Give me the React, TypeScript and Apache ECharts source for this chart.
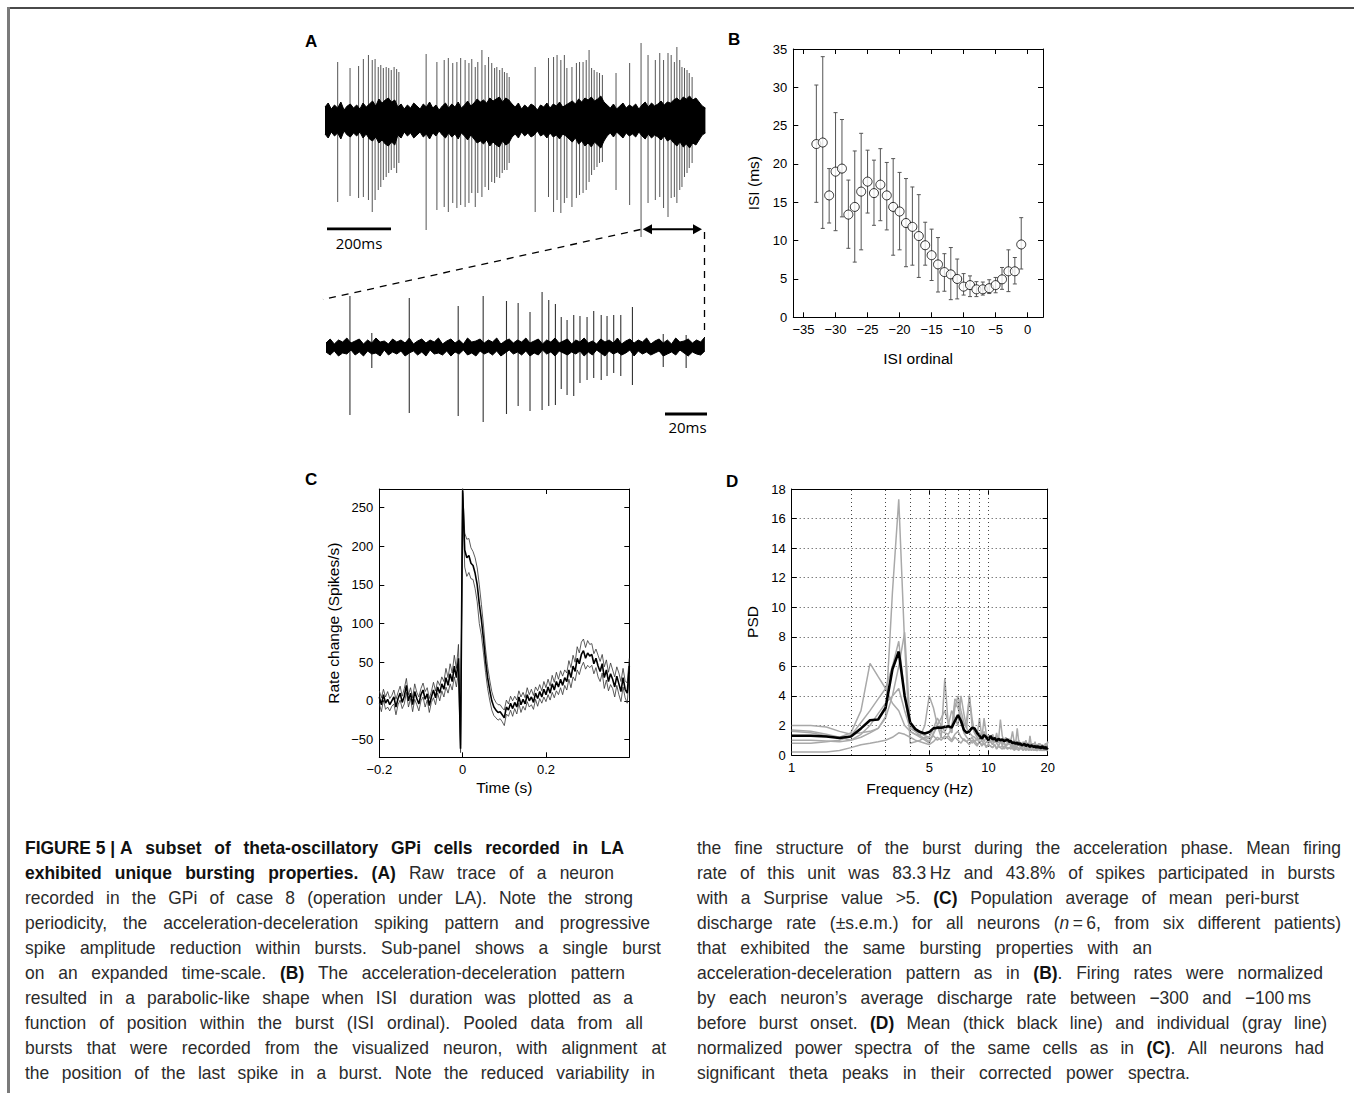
import React, { useEffect, useRef } from "react";
import * as echarts from "echarts";

const FONT = '"Liberation Sans", Arial, Helvetica, sans-serif';

// ===== Panel A (top): raw trace — spike times (ms) and peak/trough amplitudes =====
const rawSpikeTimes = [40,79,106,121,137,149,158,168,176,184,193,201,209,218,226,233, 319,
  353,376,389,403,416,428,442,454,463,474,482,495,505,516,526,535,542,551,559,566,574,581,
  663,705,721,732,744,755,763,779,793,803,814,824,833,841,849,858,866,875, 918,961,
  997,1019,1042,1056,1068,1082,1092,1102,1110,1119,1126,1134,1142,1149,1158];
const rawSpikeUp = [58,52,54,61,65,60,61,53,55,52,53,52,50,53,51,48, 66,
  58,60,62,57,58,62,60,57,61,53,58,70,55,63,57,52,53,50,52,48,47,43,
  53,62,63,65,60,65,52,53,57,58,58,60,70,52,50,48,47,45, 47,57,
  77,65,60,67,60,67,65,58,73,60,53,52,50,47,43];
const rawSpikeDown = [-82,-76,-78,-77,-80,-92,-80,-70,-67,-60,-57,-53,-50,-48,-53,-43, -110,
  -90,-87,-92,-83,-88,-85,-87,-83,-73,-87,-73,-77,-67,-70,-62,-63,-57,-58,-53,-50,-50,-43,
  -92,-77,-92,-80,-93,-83,-78,-87,-78,-75,-73,-70,-62,-55,-50,-47,-43,-42, -70,-85,
  -117,-83,-80,-77,-88,-97,-78,-77,-83,-70,-67,-57,-53,-48,-43];
// background noise envelope, sampled every 10 ms from 0 to 1200 ms
const rawEnvStepMs = 10;
const rawEnvUpper = [13,17,11,15,12,18,10,14,16,12, 15,11,17,13,16,19,14,21,17,20,
  22,18,20,13,16,11,15,12,17,14, 11,16,13,18,12,15,10,14,17,12,
  16,13,18,12,15,19,14,17,21,18, 20,17,22,19,21,23,18,22,20,16,
  13,17,11,15,12,16,14,10,15,13, 17,12,16,14,18,13,15,17,19,16,
  21,18,22,20,23,19,21,24,18,15, 12,16,11,14,17,12,15,13,16,11,
  15,18,13,17,14,16,19,15,18,17, 20,22,19,23,21,24,20,22,18,14, 12];
const rawEnvLower = [-14,-18,-12,-16,-13,-19,-11,-15,-17,-13, -16,-12,-18,-14,-19,-21,-17,-23,-20,-24,
  -26,-22,-25,-15,-18,-12,-16,-13,-18,-15, -12,-17,-14,-19,-13,-16,-11,-15,-18,-13,
  -17,-14,-19,-13,-16,-20,-15,-19,-23,-21, -24,-20,-26,-22,-25,-27,-21,-25,-23,-17,
  -14,-18,-12,-16,-13,-17,-15,-11,-16,-14, -18,-13,-17,-15,-19,-14,-16,-19,-22,-18,
  -24,-21,-26,-23,-27,-22,-25,-28,-21,-16, -13,-17,-12,-15,-18,-13,-16,-14,-17,-12,
  -16,-19,-14,-18,-15,-17,-20,-16,-21,-19, -23,-26,-22,-27,-24,-28,-23,-25,-20,-15, -13];

// ===== Panel A (bottom): single burst on expanded time-scale =====
const burstSpikeTimes = [11.5,22,40,63.5,75.5,86.7,92.3,98,103.8,107,110.2,113,115.8,119,122,125.4,128.6,132.2,135,138.2,141.6,147.2,162,173];
const burstSpikeUp = [51,14,49,41,51,46,44,35,55,47,43,30,27,32,31,30,36,32,31,32,32,40,13,12];
const burstSpikeDown = [-68,-21,-66,-69,-75,-67,-59,-64,-63,-59,-58,-42,-48,-49,-36,-33,-31,-33,-29,-26,-29,-38,-20,-21];
const burstEnvStepMs = 2;
const burstEnvUpper = [4,8,3,7,5,9,4,6,8,3, 7,4,9,5,6,3,8,5,7,4, 9,3,6,8,4,7,5,9,3,6,
  8,4,7,3,9,5,6,8,4,7, 5,9,3,6,8,4,7,5,9,4, 6,8,3,7,5,9,4,6,8,3,
  7,5,9,4,6,3,8,5,7,4, 9,3,6,8,4,7,5,9,3,6, 8,4,7,3,9,5,6,8,4,7, 5,10];
const burstEnvLower = [-5,-8,-4,-9,-6,-7,-3,-8,-5,-9, -4,-7,-6,-9,-3,-8,-5,-7,-4,-9,
  -6,-4,-8,-5,-9,-3,-7,-6,-8,-4, -9,-5,-7,-3,-8,-6,-9,-4,-7,-5,
  -8,-4,-9,-6,-3,-7,-5,-8,-4,-9, -6,-8,-3,-7,-5,-9,-4,-6,-8,-5,
  -7,-4,-9,-5,-8,-3,-6,-9,-4,-7, -5,-8,-6,-3,-9,-4,-7,-5,-8,-6,
  -4,-9,-7,-5,-8,-3,-6,-9,-5,-7, -8,-4];

// ===== Panel B: ISI vs ISI ordinal =====
const isiOrdinal = [-33,-32,-31,-30,-29,-28,-27,-26,-25,-24,-23,-22,-21,-20,-19,-18,-17,-16,-15,-14,-13,-12,-11,-10,-9,-8,-7,-6,-5,-4,-3,-2,-1];
const isiMean = [22.6,22.8,15.9,19.0,19.4,13.4,14.4,16.4,17.7,16.2,17.3,15.9,14.4,13.8,12.3,11.8,10.6,9.4,8.1,6.9,5.9,5.6,5.0,4.0,4.2,3.65,3.65,3.8,4.2,4.95,6.0,6.0,9.5];
const isiLow = [15.0,11.6,12.3,11.3,13.1,9.0,7.2,8.8,13.6,12.0,12.6,11.4,8.1,8.8,6.6,6.8,5.2,6.8,4.8,3.3,3.4,2.3,2.4,2.9,2.7,2.7,2.9,3.1,3.2,3.65,3.35,4.35,6.3];
const isiHigh = [30.3,34.0,19.4,26.7,25.8,17.9,21.7,24.0,21.8,20.5,22.0,20.2,20.7,18.9,18.1,17.0,16.0,12.4,11.5,10.4,8.3,9.1,7.6,5.7,5.4,4.65,4.6,4.9,5.2,6.5,8.8,7.8,13.0];
const isiXTicks = [-35,-30,-25,-20,-15,-10,-5,0];

// ===== Panel C: peri-burst rate, 5 ms bins from -0.2 s to 0.4 s =====
const rateBinStartS = -0.2;
const rateBinMs = 5;
const rateMean = [5,-5,8,-3,2,-5,0,5,-8,3, 10,-2,6,20,0,10,-5,12,3,-4, 8,14,2,9,-6,5,14,4,18,10,
  22,15,30,20,35,25,45,30,55,-62, 272,
  195,185,188,178,175,165,150,125,105,80, 52,30,14,0,-8,-12,-15,-14,-18,-22,
  -8,-12,-3,-10,-2,-8,5,-5,2,-4, 8,0,5,-2,10,3,12,5,15,8,
  18,10,22,14,25,18,28,20,30,25, 40,30,45,38,55,48,60,65,55,62,
  58,60,48,55,45,38,48,30,40,25, 35,28,18,32,22,12,30,15,10,45];
const rateSem = [8,9,7,8,10,8,7,9,10,8, 9,8,10,9,8,7,9,10,8,9, 8,9,10,8,9,7,10,9,8,10,
  9,10,12,10,13,11,14,12,18,5, 3,
  22,24,22,20,18,20,22,25,20,18, 15,14,13,12,11,10,10,9,9,10,
  9,8,9,10,8,9,8,10,9,8, 9,8,10,9,8,10,9,8,10,9,
  10,9,11,10,12,10,11,12,10,11, 12,13,14,12,15,14,16,15,14,16,
  15,14,13,12,14,13,12,14,13,12, 14,12,13,12,14,13,12,11,13,10];
const rateXTicks = [-0.2, 0, 0.2];
const rateYTicks = [-50, 0, 50, 100, 150, 200, 250];

// ===== Panel D: power spectra, 0.25 Hz resolution from 1 to 20 Hz =====
const psdStartHz = 1;
const psdStepHz = 0.25;
const psdMean = [1.3,1.3,1.25,1.15,1.25,1.8,2.35,2.4,3.2, 5.8,7.0,4.0,2.2,1.75,1.55,1.45,1.55,
  1.8,1.85,1.85,1.9,1.95,1.85,2.3,2.7,2.3,1.7,1.5,1.6,1.85,1.8,1.5,1.3,1.1,1.35,1.2,1.0,
  1.3,1.05,1.15,0.95,1.1,1.0,1.05,0.95,1.0,1.05, 0.9,0.95,0.8,0.85,0.75,0.85,0.7,0.8,0.65,0.7,
  0.75,0.6,0.7,0.65,0.55,0.65,0.6,0.55,0.6,0.5, 0.6,0.5,0.55,0.45,0.6,0.5,0.45,0.55,0.4,0.5];
const psdCell1 = [1.0,1.0,0.95,0.9,1.0,1.2,1.5,1.8,2.6, 11,17.3,7.5,0.8,0.9,1.0,1.2,1.1,
  1.3,1.0,1.2,1.1,1.3,1.0,1.4,1.6,1.2,1.0,0.9,1.1,0.8,1.0,0.7,0.9,0.6,0.8,0.5,0.7,
  0.6,0.5,0.7,0.45,0.6,0.5,0.65,0.4,0.55,0.5, 0.45,0.6,0.4,0.5,0.35,0.55,0.45,0.4,0.5,0.35,
  0.45,0.4,0.5,0.3,0.45,0.4,0.35,0.5,0.3,0.4, 0.35,0.45,0.3,0.4,0.35,0.3,0.45,0.35,0.3,0.4];
const psdCell2 = [2.0,2.0,1.9,1.6,1.4,1.5,1.6,1.8,2.5, 4.0,6.0,8.3,2.0,1.6,1.3,1.1,0.9,
  1.4,2.0,2.5,3.0,2.2,1.5,3.2,4.0,3.0,2.2,1.8,1.5,1.3,1.2,1.0,1.5,1.1,2.5,1.4,1.0,
  1.2,0.9,1.1,0.8,1.0,2.4,1.3,0.9,1.0,0.8, 1.1,0.9,0.7,1.0,0.8,1.8,0.9,0.7,0.8,0.6,
  0.9,0.7,0.8,0.6,1.3,0.7,0.6,0.8,0.5,0.7, 0.6,0.8,0.5,0.7,0.6,0.5,0.7,0.6,0.5,0.9];
const psdCell3 = [0.8,0.8,0.9,1.0,1.3,2.2,3.0,3.8,4.5, 6.0,7.7,4.0,1.6,1.4,1.3,2.0,4.0,
  3.2,2.0,1.6,1.5,1.4,1.8,3.5,3.2,2.5,2.0,2.4,4.0,2.5,1.5,1.2,1.0,1.4,0.9,1.2,0.8,
  1.0,0.7,0.9,1.5,0.8,1.0,0.7,0.9,0.6,0.8, 0.7,0.9,0.6,0.8,0.5,0.7,0.9,0.6,0.7,0.5,
  0.8,0.6,0.7,0.5,0.6,0.8,0.5,0.6,0.4,0.7, 0.5,0.6,0.4,0.5,0.7,0.4,0.5,0.6,0.4,0.5];
const psdCell4 = [1.6,1.5,1.3,1.2,1.5,3.0,6.2,5.3,4.5, 3.5,3.0,2.0,1.6,1.4,1.2,1.0,0.8,
  1.5,2.0,1.2,5.2,2.0,1.5,3.8,3.5,2.5,1.5,1.2,1.0,1.2,0.9,1.1,0.8,1.0,0.7,0.9,0.8,
  0.9,0.7,1.1,0.8,0.6,0.9,0.7,0.8,0.6,0.7, 0.9,0.6,0.8,0.5,0.7,0.6,0.8,0.5,0.6,0.7,
  0.5,0.6,0.4,0.7,0.5,0.6,0.4,0.5,0.6,0.4, 0.5,0.4,0.6,0.3,0.5,0.4,0.3,0.5,0.4,0.3];
const psdCell5 = [0.2,0.2,0.2,0.3,0.5,0.7,0.8,0.9,1.0, 1.2,1.5,1.4,1.2,1.0,0.9,0.8,0.7,
  0.9,1.2,1.0,1.3,1.1,0.9,1.2,1.0,0.8,1.1,0.9,0.7,1.0,0.8,0.6,0.9,0.7,0.8,0.6,0.7,
  0.6,0.5,0.7,0.4,0.6,0.5,0.4,0.6,0.5,0.4, 0.5,0.4,0.6,0.3,0.5,0.4,0.3,0.5,0.4,0.3,
  0.4,0.3,0.5,0.3,0.4,0.3,0.4,0.3,0.4,0.3, 0.3,0.4,0.3,0.35,0.3,0.4,0.3,0.35,0.3,0.3];
const psdCell6 = [1.7,1.6,1.4,1.2,1.0,1.4,2.0,2.8,3.5, 4.0,4.5,3.0,1.8,1.6,1.5,1.3,1.2,
  1.8,2.5,2.0,1.6,2.0,3.0,2.5,2.0,4.0,2.8,1.8,4.0,2.0,1.5,1.3,2.5,1.2,1.6,1.1,1.3,
  1.1,1.4,1.0,1.2,0.9,1.1,0.8,1.0,1.2,0.9, 0.8,1.0,1.6,0.9,0.8,0.7,1.0,0.8,0.6,0.9,
  0.7,1.0,0.6,0.8,0.7,0.5,0.8,0.6,0.9,0.5, 0.7,0.6,0.8,0.5,0.7,0.6,0.5,0.8,0.6,0.9];
const psdCells = [psdCell1, psdCell2, psdCell3, psdCell4, psdCell5, psdCell6];
const psdXTicks = [1, 5, 10, 20];
const psdGridFreqs = [2, 3, 4, 5, 6, 7, 8, 9, 10];

// ===== Caption =====
const captionLeft = [
  "**FIGURE\u00a05\u00a0|\u00a0A subset of theta-oscillatory GPi cells recorded in LA**",
  "**exhibited unique bursting properties. (A)** Raw trace of a neuron",
  "recorded in the GPi of case 8 (operation under LA). Note the strong",
  "periodicity, the acceleration-deceleration spiking pattern and progressive",
  "spike amplitude reduction within bursts. Sub-panel shows a single burst",
  "on an expanded time-scale. **(B)** The acceleration-deceleration pattern",
  "resulted in a parabolic-like shape when ISI duration was plotted as a",
  "function of position within the burst (ISI ordinal). Pooled data from all",
  "bursts that were recorded from the visualized neuron, with alignment at",
  "the position of the last spike in a burst. Note the reduced variability in",
];
const captionLeftEnds = [624, 614, 633, 650, 661, 625, 633, 643, 666, 655];
const captionRight = [
  "the fine structure of the burst during the acceleration phase. Mean firing",
  "rate of this unit was 83.3\u2009Hz and 43.8% of spikes participated in bursts",
  "with a Surprise value >5. **(C)** Population average of mean peri-burst",
  "discharge rate (\u00b1s.e.m.) for all neurons (__n__\u2009=\u20096, from six different patients)",
  "that exhibited the same bursting properties with an",
  "acceleration-deceleration pattern as in **(B)**. Firing rates were normalized",
  "by each neuron\u2019s average discharge rate between \u2212300 and \u2212100\u2009ms",
  "before burst onset. **(D)** Mean (thick black line) and individual (gray line)",
  "normalized power spectra of the same cells as in **(C)**. All neurons had",
  "significant theta peaks in their corrected power spectra.",
];
const captionRightEnds = [1341, 1335, 1299, 1341, 1152, 1323, 1311, 1327, 1324, 1190];

const CAP_SIZE = 18;
const CAP_SCALE = 0.97;

type Run = { t: string; b: boolean; i: boolean };

function parseLine(s: string): Run[][] {
  const runs: Run[] = [];
  let b = false, it = false, buf = "";
  for (let k = 0; k < s.length; k++) {
    if (s.startsWith("**", k)) {
      if (buf) runs.push({ t: buf, b, i: it });
      buf = ""; b = !b; k++; continue;
    }
    if (s.startsWith("__", k)) {
      if (buf) runs.push({ t: buf, b, i: it });
      buf = ""; it = !it; k++; continue;
    }
    buf += s[k];
  }
  if (buf) runs.push({ t: buf, b, i: it });
  const words: Run[][] = [[]];
  for (const r of runs) {
    const parts = r.t.split(" ");
    parts.forEach((p, idx) => {
      if (idx > 0) words.push([]);
      if (p) words[words.length - 1].push({ ...r, t: p });
    });
  }
  return words.filter((w) => w.length > 0);
}

function captionElements(lines: string[], ends: number[], x0: number, y0: number) {
  const canvas = document.createElement("canvas");
  const ctx = canvas.getContext("2d")!;
  const measure = (r: Run) => {
    ctx.font = `${r.i ? "italic " : ""}${r.b ? "bold " : ""}${CAP_SIZE}px ${FONT}`;
    return ctx.measureText(r.t).width * CAP_SCALE;
  };
  const els: any[] = [];
  lines.forEach((line, li) => {
    const words = parseLine(line);
    const widths = words.map((w) => w.reduce((s, r) => s + measure(r), 0));
    const total = widths.reduce((a, c) => a + c, 0);
    const gap = words.length > 1 ? Math.max(4, (ends[li] - x0 - total) / (words.length - 1)) : 0;
    let x = x0;
    const y = y0 + li * 25;
    words.forEach((w, wi) => {
      let rx = x;
      w.forEach((r) => {
        els.push({
          type: "text",
          x: rx,
          y,
          scaleX: CAP_SCALE,
          silent: true,
          style: {
            text: r.t,
            x: 0,
            y: 0,
            fontSize: CAP_SIZE,
            fontFamily: FONT,
            fontWeight: r.b ? "bold" : "normal",
            fontStyle: r.i ? "italic" : "normal",
            fill: r.b ? "#111" : "#2b2b2b",
            align: "left",
            verticalAlign: "middle",
          },
        });
        rx += measure(r);
      });
      x += widths[wi] + gap;
    });
  });
  return els;
}

const fmtMinus = (v: number) => (v < 0 ? "\u2212" + String(Math.abs(v)) : String(v));
const tick = { inside: true, length: 5, lineStyle: { color: "#000", width: 1 } };
const axLine = { show: true, onZero: false, lineStyle: { color: "#000", width: 1 } };
const lab = { color: "#000", fontSize: 13, fontFamily: FONT, margin: 6 };
const nameStyle = { color: "#000", fontSize: 15.5, fontFamily: FONT };
const noSplit = { show: false };

function vbar(color: string, width: number) {
  return (params: any, api: any) => {
    const t = api.value(0);
    const a = api.coord([t, api.value(1)]);
    const b = api.coord([t, api.value(2)]);
    return {
      type: "line",
      shape: { x1: a[0], y1: a[1], x2: b[0], y2: b[1] },
      style: { stroke: color, lineWidth: width },
    };
  };
}

function errRender(params: any, api: any) {
  const x = api.value(0);
  const lo = api.coord([x, api.value(1)]);
  const hi = api.coord([x, api.value(2)]);
  const c = 2;
  const st = { stroke: "#555", lineWidth: 1 };
  return {
    type: "group",
    children: [
      { type: "line", shape: { x1: lo[0], y1: lo[1], x2: hi[0], y2: hi[1] }, style: st },
      { type: "line", shape: { x1: lo[0] - c, y1: lo[1], x2: lo[0] + c, y2: lo[1] }, style: st },
      { type: "line", shape: { x1: hi[0] - c, y1: hi[1], x2: hi[0] + c, y2: hi[1] }, style: st },
    ],
  };
}

function buildOption() {
  const rawSpikes = rawSpikeTimes.map((t, i) => [t, rawSpikeDown[i], rawSpikeUp[i]]);
  const rawUp = rawEnvUpper.map((v, i) => [i * rawEnvStepMs, v]);
  const rawLo = rawEnvLower.map((v, i) => [i * rawEnvStepMs, v]);
  const burstSpikes = burstSpikeTimes.map((t, i) => [t, burstSpikeDown[i], burstSpikeUp[i]]);
  const burstUp = burstEnvUpper.map((v, i) => [i * burstEnvStepMs, v]);
  const burstLo = burstEnvLower.map((v, i) => [i * burstEnvStepMs, v]);

  const rateT = rateMean.map((_, i) => Math.round(rateBinStartS * 1000 + i * rateBinMs) / 1000);
  const psdF = psdMean.map((_, i) => psdStartHz + i * psdStepHz);

  const graphic: any[] = [
    { type: "rect", silent: true, shape: { x: 8, y: 7, width: 1346, height: 2 }, style: { fill: "#4a4a4a" } },
    { type: "rect", silent: true, shape: { x: 7, y: 7, width: 3, height: 1086 }, style: { fill: "#7a7a7a" } },
    ...[["A", 305, 41], ["B", 728, 39], ["C", 305, 479], ["D", 726, 481]].map(([t, x, y]) => ({
      type: "text", silent: true, x, y,
      style: { text: t, fontSize: 17, fontWeight: "bold", fontFamily: FONT, fill: "#000", align: "left", verticalAlign: "middle" },
    })),
    // scale bars
    { type: "line", silent: true, shape: { x1: 327, y1: 228.8, x2: 391, y2: 228.8 }, style: { stroke: "#000", lineWidth: 2.8 } },
    { type: "text", silent: true, x: 359, y: 243, style: { text: "200ms", fontSize: 15, fontFamily: '"Open Sans", sans-serif', fill: "#000", align: "center", verticalAlign: "middle" } },
    { type: "line", silent: true, shape: { x1: 665, y1: 414, x2: 707, y2: 414 }, style: { stroke: "#000", lineWidth: 2.8 } },
    { type: "text", silent: true, x: 687.5, y: 427, style: { text: "20ms", fontSize: 15, fontFamily: '"Open Sans", sans-serif', fill: "#000", align: "center", verticalAlign: "middle" } },
    // zoom connectors
    { type: "line", silent: true, shape: { x1: 640.5, y1: 229.5, x2: 323, y2: 299.5 }, style: { stroke: "#000", lineWidth: 1.3, lineDash: [7, 6] } },
    { type: "line", silent: true, shape: { x1: 704.5, y1: 232, x2: 704.5, y2: 332 }, style: { stroke: "#000", lineWidth: 1.3, lineDash: [7, 6] } },
    // double arrow
    { type: "line", silent: true, shape: { x1: 650, y1: 229.3, x2: 695, y2: 229.3 }, style: { stroke: "#000", lineWidth: 2 } },
    { type: "polygon", silent: true, shape: { points: [[642.7, 229.3], [652, 224.3], [652, 234.3]] }, style: { fill: "#000" } },
    { type: "polygon", silent: true, shape: { points: [[702, 229.3], [693, 224.3], [693, 234.3]] }, style: { fill: "#000" } },
    ...captionElements(captionLeft, captionLeftEnds, 25, 848),
    ...captionElements(captionRight, captionRightEnds, 697, 848),
  ];

  const hidden = { show: false };

  return {
    animation: false,
    backgroundColor: "#fff",
    grid: [
      { left: 325, top: 35, width: 382, height: 200, outerBoundsMode: "none" },
      { left: 326, top: 277, width: 382, height: 150, outerBoundsMode: "none" },
      { left: 793.3, top: 49, width: 249.7, height: 268.3, outerBoundsMode: "none" },
      { left: 379.3, top: 489, width: 250, height: 268.3, outerBoundsMode: "none" },
      { left: 791.7, top: 489, width: 256, height: 266, outerBoundsMode: "none" },
    ],
    xAxis: [
      { type: "value", gridIndex: 0, min: 0, max: 1205, ...hidden },
      { type: "value", gridIndex: 1, min: 0, max: 183.5, ...hidden },
      {
        type: "value", gridIndex: 2, min: -36.6, max: 2.4, axisLine: axLine,
        axisTick: { ...tick, customValues: isiXTicks },
        axisLabel: { ...lab, customValues: isiXTicks, formatter: fmtMinus },
        splitLine: noSplit, name: "ISI ordinal", nameLocation: "middle", nameGap: 33, nameTextStyle: nameStyle,
      },
      {
        type: "value", gridIndex: 2, position: "top", min: -36.6, max: 2.4, axisLine: axLine,
        axisTick: { ...tick, customValues: isiXTicks }, axisLabel: { show: false }, splitLine: noSplit,
      },
      {
        type: "value", gridIndex: 3, min: -0.2, max: 0.4, axisLine: axLine,
        axisTick: { ...tick, customValues: rateXTicks },
        axisLabel: { ...lab, customValues: rateXTicks, formatter: fmtMinus },
        splitLine: noSplit, name: "Time (s)", nameLocation: "middle", nameGap: 22, nameTextStyle: nameStyle,
      },
      {
        type: "value", gridIndex: 3, position: "top", min: -0.2, max: 0.4, axisLine: axLine,
        axisTick: { ...tick, customValues: rateXTicks }, axisLabel: { show: false }, splitLine: noSplit,
      },
      {
        type: "log", logBase: 10, gridIndex: 4, min: 1, max: 20, axisLine: axLine,
        axisTick: { ...tick, customValues: psdXTicks },
        axisLabel: { ...lab, customValues: psdXTicks },
        splitLine: noSplit, name: "Frequency (Hz)", nameLocation: "middle", nameGap: 25, nameTextStyle: nameStyle,
      },
      {
        type: "log", logBase: 10, gridIndex: 4, position: "top", min: 1, max: 20, axisLine: axLine,
        axisTick: { ...tick, customValues: psdXTicks }, axisLabel: { show: false }, splitLine: noSplit,
      },
    ],
    yAxis: [
      { type: "value", gridIndex: 0, min: -115, max: 85, ...hidden },
      { type: "value", gridIndex: 1, min: -80, max: 70, ...hidden },
      {
        type: "value", gridIndex: 2, min: 0, max: 35, interval: 5, axisLine: axLine, axisTick: tick,
        axisLabel: lab, splitLine: noSplit, name: "ISI (ms)", nameLocation: "middle", nameGap: 32, nameTextStyle: nameStyle,
      },
      { type: "value", gridIndex: 2, position: "right", min: 0, max: 35, interval: 5, axisLine: axLine, axisTick: tick, axisLabel: { show: false }, splitLine: noSplit },
      {
        type: "value", gridIndex: 3, min: -73, max: 274, axisLine: axLine,
        axisTick: { ...tick, customValues: rateYTicks },
        axisLabel: { ...lab, customValues: rateYTicks, formatter: fmtMinus },
        splitLine: noSplit, name: "Rate change (Spikes/s)", nameLocation: "middle", nameGap: 38, nameTextStyle: nameStyle,
      },
      {
        type: "value", gridIndex: 3, position: "right", min: -73, max: 274, axisLine: axLine,
        axisTick: { ...tick, customValues: rateYTicks }, axisLabel: { show: false }, splitLine: noSplit,
      },
      {
        type: "value", gridIndex: 4, min: 0, max: 18, interval: 2, axisLine: axLine, axisTick: tick,
        axisLabel: lab, splitLine: { show: true, lineStyle: { color: "#444", type: [1, 3], width: 1 } },
        name: "PSD", nameLocation: "middle", nameGap: 31, nameTextStyle: nameStyle,
      },
      { type: "value", gridIndex: 4, position: "right", min: 0, max: 18, interval: 2, axisLine: axLine, axisTick: tick, axisLabel: { show: false }, splitLine: noSplit },
    ],
    series: [
      // Panel A top
      { type: "line", xAxisIndex: 0, yAxisIndex: 0, data: rawUp, symbol: "none", silent: true, lineStyle: { color: "#000", width: 1 }, areaStyle: { color: "#000", opacity: 1 } },
      { type: "line", xAxisIndex: 0, yAxisIndex: 0, data: rawLo, symbol: "none", silent: true, lineStyle: { color: "#000", width: 1 }, areaStyle: { color: "#000", opacity: 1 } },
      { type: "custom", xAxisIndex: 0, yAxisIndex: 0, data: rawSpikes, encode: { x: 0, y: [1, 2] }, renderItem: vbar("#555", 1), silent: true },
      // Panel A bottom
      { type: "line", xAxisIndex: 1, yAxisIndex: 1, data: burstUp, symbol: "none", silent: true, lineStyle: { color: "#000", width: 1 }, areaStyle: { color: "#000", opacity: 1 } },
      { type: "line", xAxisIndex: 1, yAxisIndex: 1, data: burstLo, symbol: "none", silent: true, lineStyle: { color: "#000", width: 1 }, areaStyle: { color: "#000", opacity: 1 } },
      { type: "custom", xAxisIndex: 1, yAxisIndex: 1, data: burstSpikes, encode: { x: 0, y: [1, 2] }, renderItem: vbar("#333", 1.1), silent: true },
      // Panel B
      { type: "custom", xAxisIndex: 2, yAxisIndex: 2, data: isiOrdinal.map((x, i) => [x, isiLow[i], isiHigh[i]]), encode: { x: 0, y: [1, 2] }, renderItem: errRender, silent: true },
      { type: "scatter", xAxisIndex: 2, yAxisIndex: 2, data: isiOrdinal.map((x, i) => [x, isiMean[i]]), symbol: "circle", symbolSize: 9, itemStyle: { color: "#fff", borderColor: "#000", borderWidth: 1 }, silent: true },
      // Panel C
      { type: "line", xAxisIndex: 4, yAxisIndex: 4, data: rateT.map((t, i) => [t, rateMean[i] + rateSem[i]]), symbol: "none", silent: true, lineStyle: { color: "#333", width: 0.8 } },
      { type: "line", xAxisIndex: 4, yAxisIndex: 4, data: rateT.map((t, i) => [t, rateMean[i] - rateSem[i]]), symbol: "none", silent: true, lineStyle: { color: "#333", width: 0.8 } },
      { type: "line", xAxisIndex: 4, yAxisIndex: 4, data: rateT.map((t, i) => [t, rateMean[i]]), symbol: "none", silent: true, lineStyle: { color: "#000", width: 1.6 } },
      // Panel D
      {
        type: "line", xAxisIndex: 6, yAxisIndex: 6, data: [], silent: true,
        markLine: {
          silent: true, symbol: ["none", "none"], label: { show: false },
          lineStyle: { color: "#444", type: [1, 3], width: 1 },
          data: psdGridFreqs.map((f) => ({ xAxis: f })),
        },
      },
      ...psdCells.map((cell) => ({
        type: "line", xAxisIndex: 6, yAxisIndex: 6, data: psdF.map((f, i) => [f, cell[i]]), symbol: "none", silent: true,
        lineStyle: { color: "#a9a9a9", width: 1.5 },
      })),
      { type: "line", xAxisIndex: 6, yAxisIndex: 6, data: psdF.map((f, i) => [f, psdMean[i]]), symbol: "none", silent: true, lineStyle: { color: "#000", width: 2.6 } },
    ],
    graphic: { elements: graphic },
  };
}

export default function App() {
  const ref = useRef<HTMLDivElement>(null);
  useEffect(() => {
    const chart = echarts.init(ref.current!, null, { renderer: "svg" });
    chart.setOption(buildOption() as any);
    return () => chart.dispose();
  }, []);
  return (
    <div
      ref={ref}
      style={{ position: "fixed", left: 0, top: 0, width: 1354, height: 1093, background: "#fff" }}
    />
  );
}
